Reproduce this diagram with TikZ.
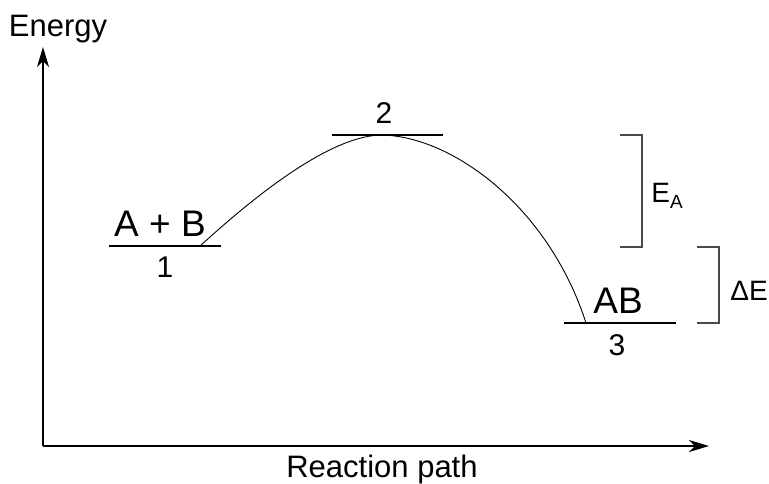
\documentclass[tikz,border=0pt]{standalone}
\usepackage{fontspec}
\setmainfont{Liberation Sans}
\usetikzlibrary{arrows.meta}
\definecolor{epline}{HTML}{000000}
\definecolor{epbrack}{HTML}{4A4A4A}
\tikzset{
  axis/.style   = {-{Stealth[length=10pt,width=6pt,inset=3pt]}, line width=0.75pt, draw=epline},
  level/.style  = {line width=1pt, draw=epline},
  curv/.style   = {line width=0.45pt, draw=epline},
  brack/.style  = {line width=0.6pt, draw=epbrack},
  lbl/.style    = {anchor=base, inner sep=0pt, font=\fontsize{15.5}{18}\selectfont},
  spc/.style    = {anchor=base, inner sep=0pt, font=\fontsize{18.5}{22}\selectfont},
  num/.style    = {anchor=base, inner sep=0pt, font=\fontsize{15}{18}\selectfont},
  dlbl/.style   = {anchor=base west, inner sep=0pt, font=\fontsize{14}{17}\selectfont},
}
\begin{document}
\begin{tikzpicture}[x=0.5pt,y=-0.5pt]
\useasboundingbox (0,0) rectangle (769,483);

% -- axes --------------------------------------------------------------------
\coordinate (O) at (43,446);
\coordinate (ytip) at (43,47);
\coordinate (xtip) at (709,446);
\draw[axis] (O) -- (ytip);
\draw[axis] (O) -- (xtip);
\node[lbl] (elab) at (58,36) {Energy};
\node[lbl] (rlab) at (382,477) {Reaction path};

% -- energy levels: name/left/right/height ------------------------------------
\foreach \n/\a/\b/\h in {one/109/221/246, two/332/443/135, three/564/676/323}{
  \coordinate (\n W) at (\a,\h);
  \coordinate (\n E) at (\b,\h);
  \draw[level] (\n W) -- (\n E);
}
\node[spc] (react) at (160,236) {A + B};
\node[num] (n1) at (165,277) {1};
\node[num] (n2) at (384,123) {2};
\node[spc] (prod) at (618,313) {AB};
\node[num] (n3) at (617,355) {3};

% -- reaction path -------------------------------------------------------------
\coordinate (start) at (200,246);
\coordinate (peak) at (380,135);
\coordinate (stop) at (586,323);
\draw[curv] (start) .. controls (245,205) and (325,137) .. (peak)
                    .. controls (450,135) and (548,205) .. (stop);

% -- brackets ------------------------------------------------------------------
\draw[brack] (620,135) -| (642,247) -- (620,247);
\draw[brack] (697,247) -| (719,323) -- (697,323);
\node[dlbl] (ea) at (651,202) {E\raisebox{-3pt}{\fontsize{9.5}{11}\selectfont A}};
\node[dlbl] (de) at (730,300) {ΔE};

\end{tikzpicture}
\end{document}
